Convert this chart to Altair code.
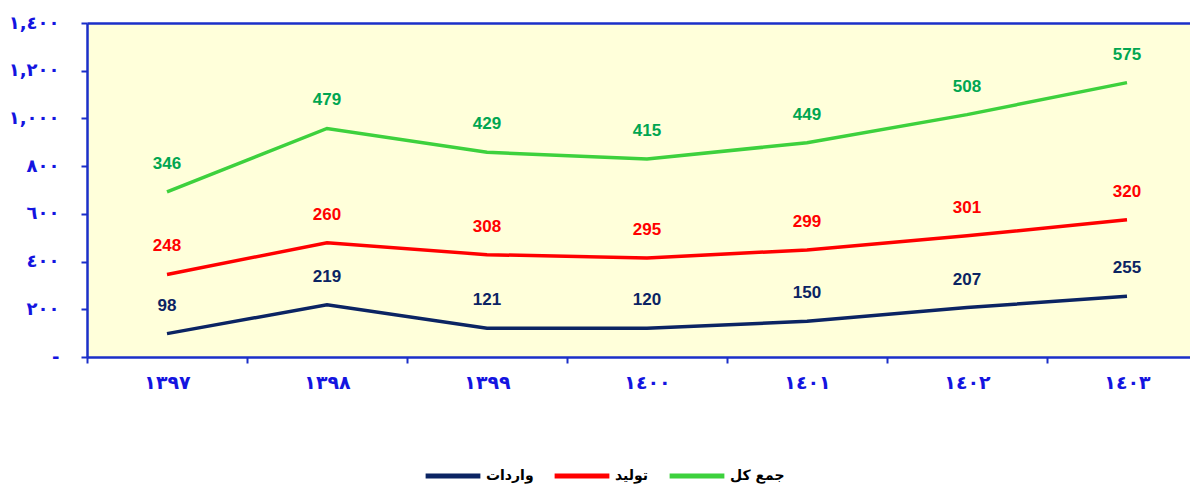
import altair as alt
import pandas as pd

years = ["١٣٩٧", "١٣٩٨", "١٣٩٩", "١٤٠٠", "١٤٠١", "١٤٠٢", "١٤٠٣"]
series_names = ["واردات", "تولید", "جمع کل"]
imports = [98, 219, 121, 120, 150, 207, 255]
production = [248, 260, 308, 295, 299, 301, 320]
total = [346, 479, 429, 415, 449, 508, 575]
line_colors = ["#0B2463", "#FF0000", "#3DD13D"]
label_colors = ["#0B2463", "#FF0000", "#00A651"]
y_tick_values = [0, 200, 400, 600, 800, 1000, 1200, 1400]
y_tick_labels = ["-", "٢٠٠", "٤٠٠", "٦٠٠", "٨٠٠", "١,٠٠٠", "١,٢٠٠", "١,٤٠٠"]

rows = []
for s_i, (name, vals) in enumerate(zip(series_names, [imports, production, total])):
    for y_i, (yr, v) in enumerate(zip(years, vals)):
        rows.append({"year": yr, "series": name, "value": v, "ord": s_i,
                     "tcolor": label_colors[s_i]})
df = pd.DataFrame(rows)

AXIS_BLUE = "#1B2FC8"
LABEL_BLUE = "#1414E0"
label_js = "[" + ",".join("'%s'" % t for t in y_tick_labels) + "]"

base = alt.Chart(df).transform_window(
    cum="sum(value)", frame=[None, 0], groupby=["year"], sort=[alt.SortField("ord")]
)

x_scale = alt.Scale(paddingInner=0, paddingOuter=0, range=[0, 1120])
x_enc = alt.X(
    "year:N", sort=years, title=None, scale=x_scale,
    axis=alt.Axis(
        tickBand="extent", labelAngle=0, labelFont="DejaVu Sans", labelFontSize=19,
        labelFontWeight="bold", labelColor=LABEL_BLUE, labelPadding=10,
        domainColor=AXIS_BLUE, domainWidth=2.5, tickColor=AXIS_BLUE, tickWidth=2,
        tickSize=6, grid=False,
    ),
)
y_enc = alt.Y(
    "cum:Q", title=None,
    scale=alt.Scale(domain=[0, 1400], nice=False),
    axis=alt.Axis(
        values=y_tick_values, labelExpr=label_js + "[round(datum.value/200)]",
        labelFont="DejaVu Sans", labelFontSize=18, labelFontWeight="bold",
        labelColor=LABEL_BLUE, labelPadding=22,
        domainColor=AXIS_BLUE, domainWidth=2.5, tickColor=AXIS_BLUE, tickWidth=2,
        tickSize=6,
        grid=True, gridColor=AXIS_BLUE, gridWidth=2.5,
        gridOpacity={"expr": "datum.value == 1400 ? 1 : 0"},
    ),
)

lines = base.mark_line(strokeWidth=3.5).encode(
    x=x_enc, y=y_enc,
    color=alt.Color(
        "series:N",
        scale=alt.Scale(domain=series_names, range=line_colors),
        legend=alt.Legend(
            title=None, orient="none", legendX=336, legendY=423,
            direction="horizontal",
            symbolType="stroke", symbolStrokeWidth=5, symbolSize=3000,
            labelFont="DejaVu Sans", labelFontSize=14, labelFontWeight="bold",
            labelColor="#000000", columnPadding=10, labelOffset=3,
        ),
    ),
    detail="series:N",
)

labels = base.mark_text(
    font="Liberation Sans", fontSize=17, fontWeight="bold", dy=-28, baseline="middle"
).encode(
    x=alt.X("year:N", sort=years, scale=x_scale),
    y=alt.Y("cum:Q"),
    text=alt.Text("value:Q"),
    color=alt.Color("tcolor:N", scale=None),
)

chart = alt.layer(lines, labels).properties(
    width=1103, height=334,
    autosize=alt.AutoSizeParams(type="none"),
    padding={"left": 79, "top": 15, "right": 0, "bottom": 130},
).configure_view(
    fill="#FFFFDA", stroke=None
)

chart.save("out.html", embed_options={"renderer": "svg", "actions": False})
